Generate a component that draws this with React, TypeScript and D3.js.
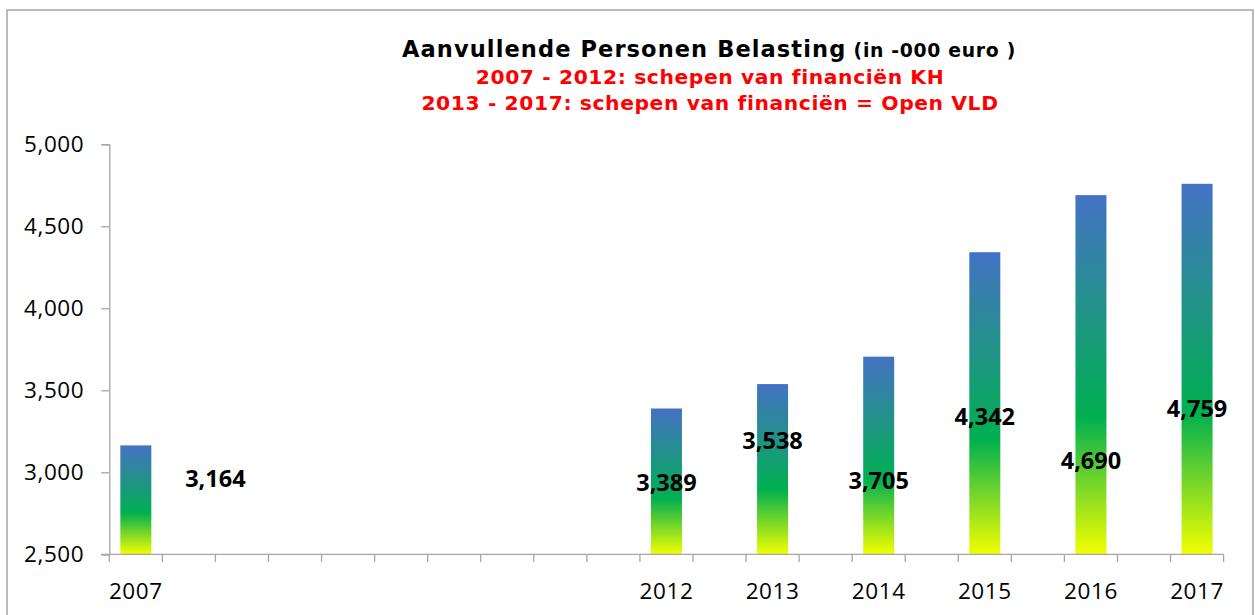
import React, { useEffect, useRef } from 'react';
import * as d3 from 'd3';

// 21 category slots on the axis, most of them blank (as in the original sheet)
const categories = ['2007', '', '', '', '', '', '', '', '', '', '2012', '', '2013', '', '2014', '', '2015', '', '2016', '', '2017'];
const values: (number | null)[] = [3164, null, null, null, null, null, null, null, null, null, 3389, null, 3538, null, 3705, null, 4342, null, 4690, null, 4759];
// where each value label was dragged to (in euro-thousands on the y axis, and slot index)
const labelLevels = [2959, 2936, 3192, 2947, 3336, 3072, 3388];
const labelSlots = [2, 10.5, 12.5, 14.5, 16.5, 18.5, 20.5];
const yTicks = [2500, 3000, 3500, 4000, 4500, 5000];

const App = () => {
  const ref = useRef<SVGSVGElement>(null);

  useEffect(() => {
    const width = 1255;
    const height = 615;
    const svg = d3.select(ref.current).attr('width', width).attr('height', height);
    svg.selectAll('*').remove();

    const x = d3.scaleBand<number>().domain(d3.range(categories.length)).range([109.3, 1223.6]).padding(0);
    const y = d3.scaleLinear().domain([2500, 5000]).range([554.3, 144.3]);
    const slotX = d3.scaleLinear().domain([0, categories.length]).range([109.3, 1223.6]);

    // gradient fill
    const grad = svg.append('defs').append('linearGradient')
      .attr('id', 'barGrad').attr('x1', 0).attr('y1', 0).attr('x2', 0).attr('y2', 1);
    grad.append('stop').attr('offset', '0%').attr('stop-color', '#4472C4');
    grad.append('stop').attr('offset', '62%').attr('stop-color', '#00B050');
    grad.append('stop').attr('offset', '100%').attr('stop-color', '#F2FF00');

    // chart border
    svg.append('rect').attr('x', 7).attr('y', 10).attr('width', 1246).attr('height', 640)
      .attr('fill', 'none').attr('stroke', '#ababab').attr('stroke-width', 1.6);

    // title
    const title = svg.append('text').attr('x', 709).attr('y', 57).attr('text-anchor', 'middle')
      .attr('font-family', 'DejaVu Sans').attr('font-weight', 'bold').attr('fill', '#000');
    title.append('tspan').attr('font-size', 22.5).attr('letter-spacing', 1.1).text('Aanvullende Personen Belasting');
    title.append('tspan').attr('font-size', 18.8).attr('letter-spacing', 0.7).text(' (in -000 euro )');

    const subs = ['2007 - 2012: schepen van financiën KH', '2013 - 2017: schepen van financiën = Open VLD'];
    svg.selectAll('.sub').data(subs).enter().append('text')
      .attr('x', 710).attr('y', (d, i) => 84 + i * 26).attr('text-anchor', 'middle')
      .attr('font-family', 'DejaVu Sans').attr('font-weight', 'bold').attr('font-size', 20.3)
      .attr('letter-spacing', 0.6).attr('fill', '#FF0000').text(d => d);

    // y axis
    const yAxis = svg.append('g').attr('transform', 'translate(109.3,0)')
      .call(d3.axisLeft(y).tickValues(yTicks).tickSize(8).tickPadding(17).tickFormat(d3.format(',')));
    yAxis.select('.domain').attr('stroke', '#a6a6a6').attr('stroke-width', 1.3);
    yAxis.selectAll('.tick line').attr('stroke', '#a6a6a6').attr('stroke-width', 1.3);
    yAxis.selectAll('.tick text').attr('font-family', 'Open Sans').attr('font-size', 22.5)
      .attr('letter-spacing', 0.6).attr('fill', '#000');

    // bars
    svg.selectAll('.bar').data(values.map((v, i) => ({ v, i })).filter(d => d.v !== null)).enter()
      .append('rect')
      .attr('x', d => (x(d.i) as number) + x.bandwidth() / 2 - 15.5)
      .attr('width', 31)
      .attr('y', d => y(d.v as number))
      .attr('height', d => y(2500) - y(d.v as number))
      .attr('fill', 'url(#barGrad)');

    // x axis
    svg.append('line').attr('x1', 101).attr('x2', 1223.6).attr('y1', 554.3).attr('y2', 554.3)
      .attr('stroke', '#a6a6a6').attr('stroke-width', 1.3);
    svg.selectAll('.xtick').data(d3.range(categories.length + 1)).enter().append('line')
      .attr('x1', d => slotX(d)).attr('x2', d => slotX(d)).attr('y1', 554.3).attr('y2', 562)
      .attr('stroke', '#a6a6a6').attr('stroke-width', 1.3);
    svg.selectAll('.xlab').data(categories.map((c, i) => ({ c, i })).filter(d => d.c !== '')).enter()
      .append('text')
      .attr('x', d => (x(d.i) as number) + x.bandwidth() / 2).attr('y', 599)
      .attr('text-anchor', 'middle').attr('font-family', 'Open Sans').attr('font-size', 22.5)
      .attr('letter-spacing', 0.6).attr('fill', '#000').text(d => d.c);

    // value labels
    const shown = values.filter(v => v !== null) as number[];
    svg.selectAll('.val').data(shown).enter().append('text')
      .attr('x', (d, i) => slotX(labelSlots[i])).attr('y', (d, i) => y(labelLevels[i]))
      .attr('dy', '0.35em').attr('text-anchor', 'middle')
      .attr('font-family', 'Open Sans').attr('font-weight', 'bold').attr('font-size', 23.5)
      .attr('fill', '#000').text(d => d3.format(',')(d));
  }, []);

  return (
    <div style={{ position: 'absolute', left: 0, top: 0 }}>
      <svg ref={ref} style={{ display: 'block', background: '#fff' }}></svg>
    </div>
  );
};

export default App;
